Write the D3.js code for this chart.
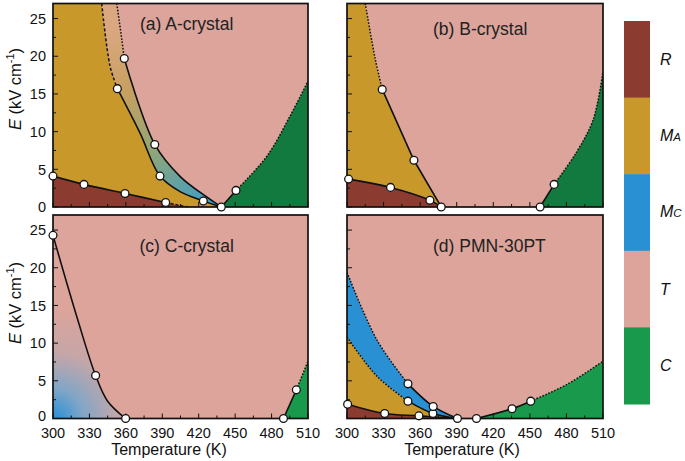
<!DOCTYPE html>
<html><head><meta charset="utf-8">
<script src="https://cdn.jsdelivr.net/npm/d3@7"></script>
<style>body{margin:0;background:#fff}svg{display:block}text{font-family:Arial,"Liberation Sans",sans-serif}</style>
</head><body><svg id="c" width="685" height="461"></svg>
<script>
// ---------- data ----------
const xTickLabels = [300,330,360,390,420,450,480,510];
const yTickLabels = [0,5,10,15,20,25];
const panelTitles = ["(a) A-crystal","(b) B-crystal","(c) C-crystal","(d) PMN-30PT"];
const legendPhases = ["R","MA","MC","T","C"];

// panel (a) A-crystal
const aMarkers = [[300,4.1],[325.5,3.0],[359.3,1.8],[392.8,0.6],[423.8,0.8],[438.6,0],[450.7,2.2],[353,15.7],[358.7,19.7],[383.8,8.3],[388.1,4.1]];
const aR_solid = [[300,4.1],[325.5,3.0],[359.3,1.8],[392.8,0.6]];
const aR_dash = [[392.8,0.6],[403,0.25],[412,0]];
const aL_dash = [[340.1,27],[347,18.7],[353,15.7]];
const aL_solid = [[353,15.7],[371.7,9.8],[388.1,4.1],[405,2.0],[423.8,0.8],[438.6,0]];
const aRt_dash = [[352.5,27],[356.6,22.3],[358.7,19.7]];
const aRt_solid = [[358.7,19.7],[383.8,8.3],[405,4.0],[426,1.4],[438.6,0]];
const aTC_solid = [[438.6,0],[450.7,2.2]];
const aTC_dot = [[450.7,2.2],[476,6.7],[495,12],[510,16.7]];

// panel (b) B-crystal
const bMarkers = [[301.3,3.7],[335.7,2.6],[368,0.9],[377.3,0],[328.9,15.6],[354.9,6.2],[458.4,0],[469.9,3.0]];
const bR = [[301.3,3.7],[335.7,2.6],[368,0.9],[377.3,0]];
const bMT_dot = [[315,27],[323.2,19.6],[328.9,15.6]];
const bMT_solid = [[328.9,15.6],[354.9,6.2],[377.3,0]];
const bTC_solid = [[458.4,0],[469.9,3.0]];
const bTC_dot = [[469.9,3.0],[488,7.2],[502,11.6],[510,18]];

// panel (c) C-crystal
const cMarkers = [[300,24.3],[335.1,5.7],[359.8,0],[489.8,0],[500.4,3.8]];
const cMT = [[300,24.3],[320,13.3],[335.1,5.7],[345,2.3],[359.8,0]];
const cTC_solid = [[489.8,0],[500.4,3.8]];
const cTC_dot = [[500.4,3.8],[510,7.6]];

// panel (d) PMN-30PT
const dMarkers = [[300.5,1.9],[330.9,0.66],[359,0.35],[370.5,0.66],[370.7,1.6],[350,2.3],[350,4.6],[390.6,0],[406.2,0],[435.4,1.3],[450.7,2.3]];
const dR = [[300.5,1.9],[330.9,0.66],[359,0.35],[390.6,0]];
const dLow_dot = [[300,10.8],[324.6,5.6],[350,2.3]];
const dLow_solid = [[350,2.3],[370.5,0.66],[390.6,0]];
const dUp_dot = [[300,19.4],[324.6,10.4],[350,4.6]];
const dUp_solid = [[350,4.6],[370.7,1.6],[390.6,0]];
const dTC_solid = [[406.2,0],[435.4,1.3],[450.7,2.3]];
const dTC_dot = [[450.7,2.3],[480.2,4.5],[510,7.6]];

// ---------- style ----------
const COL = {R:"#8C3B31", MA:"#C8992A", MC:"#2A90D4", T:"#DCA49A", C:"#18994B", Cdark:"#12793F"};
const svg = d3.select("#c");
const defs = svg.append("defs");
const cat = d3.curveCatmullRom.alpha(0.5);
const rev = a => a.slice().reverse();

const layout = [
  {x0:53, x1:308, y0:3.5, y1:207},
  {x0:347, x1:603, y0:3.5, y1:207},
  {x0:53, x1:308, y0:215, y1:418.5},
  {x0:347, x1:603, y0:215, y1:418.5}
];

function makeScales(L){
  return {
    x: d3.scaleLinear().domain([300,510]).range([L.x0,L.x1]),
    y: d3.scaleLinear().domain([0,27]).range([L.y1,L.y0])
  };
}
function lineStr(s, pts, curve){
  return d3.line().x(d=>s.x(d[0])).y(d=>s.y(d[1])).curve(curve||cat)(pts);
}
function region(s, pieces){
  let out = "";
  pieces.forEach((p,i)=>{
    const pts = p.pts || p;
    let str = pts.length===1 ? `M${s.x(pts[0][0])},${s.y(pts[0][1])}` : lineStr(s, pts, p.curve);
    if(i>0) str = "L"+str.slice(1);
    out += str;
  });
  return out+"Z";
}

function panel(i, build){
  const L = layout[i], s = makeScales(L);
  const g = svg.append("g");
  const cid = "clip"+i;
  defs.append("clipPath").attr("id",cid).append("rect")
    .attr("x",L.x0).attr("y",L.y0).attr("width",L.x1-L.x0).attr("height",L.y1-L.y0);
  const inner = g.append("g").attr("clip-path",`url(#${cid})`);
  inner.append("rect").attr("x",L.x0).attr("y",L.y0).attr("width",L.x1-L.x0).attr("height",L.y1-L.y0).attr("fill",COL.T);
  const api = {
    fill:(pieces,color)=>inner.append("path").attr("d",region(s,pieces)).attr("fill",color),
    line:(pts,style,curve)=>{
      const p = inner.append("path").attr("d",lineStr(s,pts,curve)).attr("fill","none")
        .attr("stroke","#111").attr("stroke-width",style==="solid"?1.6:1.5);
      if(style==="dot") p.attr("stroke-dasharray","1.6,1.6");
      if(style==="dash") p.attr("stroke-dasharray","3,2");
    }
  };
  build(api, s, L);
  // ticks (inward)
  const tk = g.append("g").attr("stroke","#111").attr("stroke-width",1);
  d3.range(300,511,15).forEach(v=>{
    const len = (v-300)%30===0 ? 5 : 3;
    tk.append("line").attr("x1",s.x(v)).attr("x2",s.x(v)).attr("y1",L.y1).attr("y2",L.y1-len);
  });
  d3.range(0,27.1,2.5).forEach(v=>{
    const len = v%5===0 ? 5 : 3;
    tk.append("line").attr("y1",s.y(v)).attr("y2",s.y(v)).attr("x1",L.x0).attr("x2",L.x0+len);
  });
  g.append("rect").attr("x",L.x0).attr("y",L.y0).attr("width",L.x1-L.x0).attr("height",L.y1-L.y0)
    .attr("fill","none").attr("stroke","#111").attr("stroke-width",1.7);
  return {g, s, L};
}
function markers(P, pts){
  P.g.append("g").selectAll("circle").data(pts).join("circle")
    .attr("cx",d=>P.s.x(d[0])).attr("cy",d=>P.s.y(d[1])).attr("r",3.9)
    .attr("fill","#fff").attr("stroke","#111").attr("stroke-width",1.3);
}

// gradients
const gA = defs.append("linearGradient").attr("id","gA").attr("gradientUnits","userSpaceOnUse");
const gC = defs.append("radialGradient").attr("id","gC").attr("gradientUnits","userSpaceOnUse");

// ----- panel a -----
const PA = panel(0,(api,s)=>{
  gA.attr("x1",s.x(354)).attr("y1",s.y(24)).attr("x2",s.x(432)).attr("y2",s.y(0.3));
  [[0,"#DAA780"],[0.3,"#C8A060"],[0.62,"#92A676"],[1,"#3C9DC8"]].forEach(d=>gA.append("stop").attr("offset",d[0]).attr("stop-color",d[1]));
  api.fill([aTC_solid, aTC_dot, [[510,0]]], COL.Cdark);
  api.fill([[[300,27]], aL_dash, aL_solid, [[300,0]]], COL.MA);
  api.fill([aL_dash, aL_solid, rev(aRt_solid), rev(aRt_dash)], "url(#gA)");
  api.fill([[[300,0]], aR_solid, aR_dash], COL.R);
  api.line(aR_solid,"solid"); api.line(aR_dash,"dash");
  api.line(aL_dash,"dash"); api.line(aL_solid,"solid");
  api.line(aRt_dash,"dot"); api.line(aRt_solid,"solid");
  api.line(aTC_solid,"solid",d3.curveLinear); api.line(aTC_dot,"dot");
});
markers(PA, aMarkers);

// ----- panel b -----
const PB = panel(1,(api,s)=>{
  api.fill([bTC_solid, bTC_dot, [[510,0]]], COL.Cdark);
  api.fill([[[300,27]], bMT_dot, {pts:bMT_solid, curve:d3.curveLinear}, [[300,0]]], COL.MA);
  api.fill([[[300,0]], [[300,3.75]], bR], COL.R);
  api.line(bR,"solid");
  api.line(bMT_dot,"dot"); api.line(bMT_solid,"solid",d3.curveLinear);
  api.line(bTC_solid,"solid",d3.curveLinear); api.line(bTC_dot,"dot");
});
markers(PB, bMarkers);

// ----- panel c -----
const PC = panel(2,(api,s)=>{
  gC.attr("cx",s.x(300)).attr("cy",s.y(0)).attr("r",110);
  [[0,"#2790D8"],[0.28,"#82A6C6"],[0.6,"#C6A6A8"],[1,COL.T]].forEach(d=>gC.append("stop").attr("offset",d[0]).attr("stop-color",d[1]));
  api.fill([cMT, [[300,0]]], "url(#gC)");
  api.fill([cTC_solid, cTC_dot, [[510,0]]], COL.C);
  api.line(cMT,"solid");
  api.line(cTC_solid,"solid",d3.curveLinear); api.line(cTC_dot,"dot");
});
markers(PC, cMarkers);

// ----- panel d -----
const PD = panel(3,(api,s)=>{
  api.fill([dTC_solid, dTC_dot, [[510,0]]], COL.C);
  api.fill([dUp_dot, dUp_solid, rev(dLow_solid), rev(dLow_dot)], COL.MC);
  api.fill([dLow_dot, dLow_solid, rev(dR), [[300,1.9]]], COL.MA);
  api.fill([[[300,0]], [[300,1.9]], dR], COL.R);
  api.line(dR,"solid");
  api.line(dLow_dot,"dot"); api.line(dLow_solid,"solid");
  api.line(dUp_dot,"dot"); api.line(dUp_solid,"solid");
  api.line(dTC_solid,"solid"); api.line(dTC_dot,"dot");
});
markers(PD, dMarkers);

// ----- axes labels -----
[PA,PC].forEach((P,k)=>{
  P.g.append("g").selectAll("text").data(yTickLabels).join("text")
    .attr("x",P.L.x0-7).attr("y",d=>P.s.y(d) - (k===1 && d===0 ? 2.5 : 0)).attr("dy","0.36em")
    .attr("text-anchor","end").attr("font-size",14.5).attr("fill","#111").text(d=>d);
});
[PC,PD].forEach(P=>{
  P.g.append("g").selectAll("text").data(xTickLabels).join("text")
    .attr("x",d=>P.s.x(d)).attr("y",437.5)
    .attr("text-anchor","middle").attr("font-size",14.5).attr("fill","#111").text(d=>d);
});
[[169,PC],[462,PD]].forEach(([cx])=>{
  svg.append("text").attr("x",cx).attr("y",454.5).attr("text-anchor","middle")
    .attr("font-size",16).attr("fill","#111").text("Temperature (K)");
});
[89,303].forEach(cy=>{
  const t = svg.append("text").attr("transform",`translate(21,${cy}) rotate(-90)`)
    .attr("text-anchor","middle").attr("font-size",16.5).attr("fill","#111");
  t.append("tspan").attr("font-style","italic").text("E");
  t.append("tspan").text(" (kV cm");
  t.append("tspan").attr("font-size",11).attr("dy",-7).text("-1");
  t.append("tspan").attr("dy",7).text(")");
});
// panel titles
[[140,30],[433,35],[139.5,252],[433,251.5]].forEach((p,i)=>{
  svg.append("text").attr("x",p[0]).attr("y",p[1]).attr("font-size",17.5).attr("fill","#222").text(panelTitles[i]);
});

// ----- legend -----
const ly = d3.scaleBand().domain(legendPhases).range([21,404]);
const lg = svg.append("g");
lg.selectAll("rect").data(legendPhases).join("rect")
  .attr("x",624).attr("width",26).attr("y",d=>ly(d)).attr("height",ly.bandwidth()+0.5)
  .attr("fill",d=>COL[d]);
legendPhases.forEach(d=>{
  const t = lg.append("text").attr("x",660).attr("y",ly(d)+ly.bandwidth()/2 + (d.length>1?-1:0)).attr("dy","0.36em")
    .attr("font-size",16).attr("font-style","italic").attr("fill","#111");
  t.append("tspan").text(d[0]);
  if(d.length>1) t.append("tspan").attr("font-size",11.5).text(d.slice(1));
});
</script></body></html>
